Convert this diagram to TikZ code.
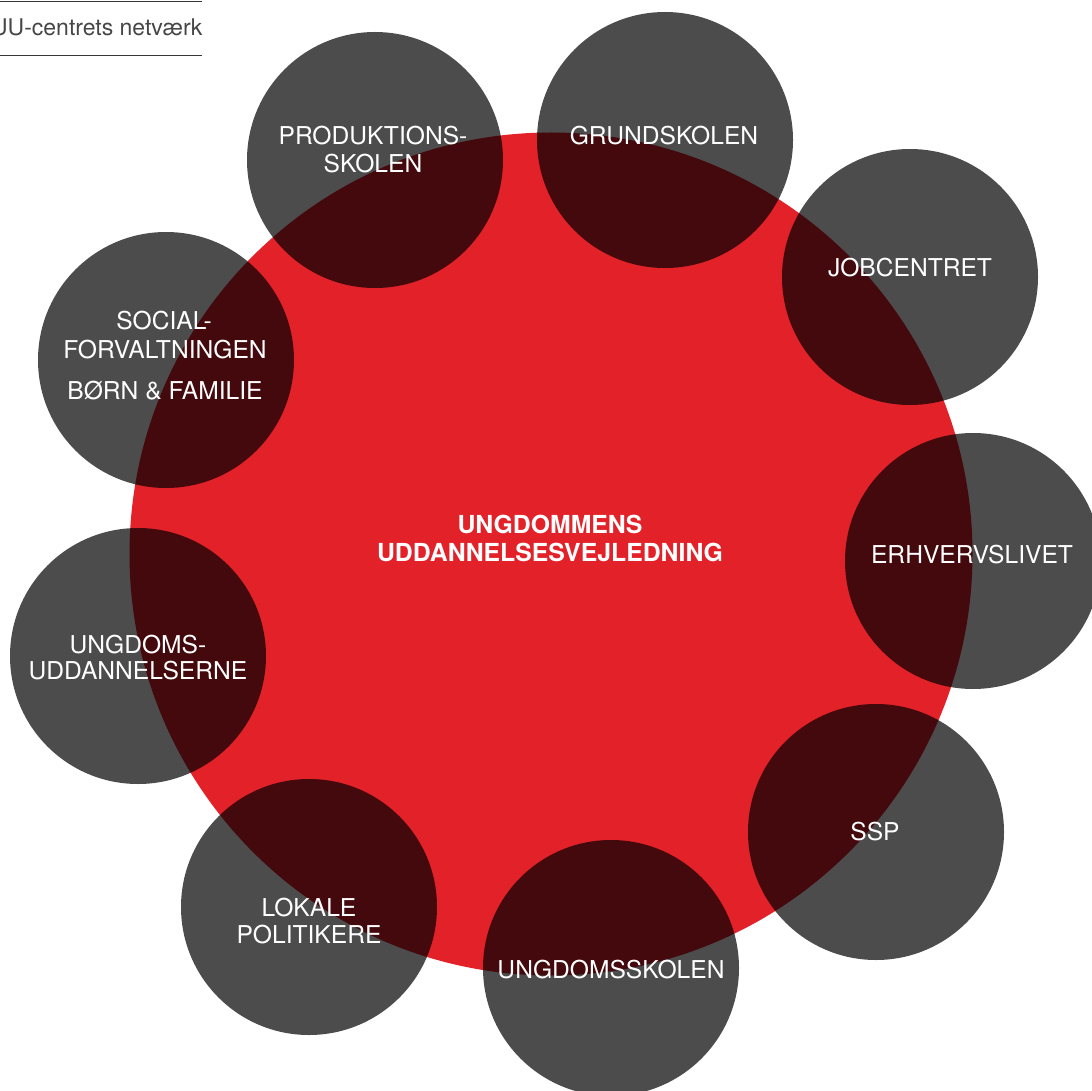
\documentclass[tikz,border=0pt]{standalone}
\usepackage{fontspec}
\setmainfont{TeX Gyre Heros}
\definecolor{uured}{RGB}{227,33,41}
\definecolor{hdrgray}{RGB}{55,55,55}
\definecolor{hdrtext}{RGB}{70,70,70}
\begin{document}
\begin{tikzpicture}[x=1pt,y=-1pt,
  hub/.style={circle, fill=uured, draw=none, minimum size=843pt, inner sep=0pt},
  partner/.style={circle, fill=black, fill opacity=0.7, draw=none, minimum size=256pt, inner sep=0pt},
  lbl/.style={text=white, inner sep=0pt, anchor=base, font=\fontsize{24.6}{28}\selectfont},
  hublbl/.style={lbl, font=\fontsize{24.8}{28}\selectfont\bfseries},
  hdrline/.style={draw=hdrgray, line width=1pt},
  hdrlbl/.style={text=hdrtext, inner sep=0pt, anchor=base east, font=\fontsize{23}{28}\selectfont}
]
\useasboundingbox (0,0) rectangle (1092,1091);

% header
\coordinate (h1a) at (0,2);   \coordinate (h1b) at (202,2);
\coordinate (h2a) at (0,56);  \coordinate (h2b) at (202,56);
\draw[hdrline] (h1a) -- (h1b);
\draw[hdrline] (h2a) -- (h2b);
\node[hdrlbl] (hdr) at (202.5,36) {UU-centrets netværk};

% central circle
\node[hub] (hub) at (551,554) {};

% partner circles
\node[partner] (prod)   at (375,160) {};
\node[partner] (grund)  at (665,140) {};
\node[partner] (job)    at (910,277) {};
\node[partner] (erhv)   at (973,561) {};
\node[partner] (ssp)    at (876,832) {};
\node[partner] (ungsk)  at (611,968) {};
\node[partner] (lokale) at (309,907) {};
\node[partner] (ungudd) at (138,656) {};
\node[partner] (social) at (166,360) {};

% central label
\node[hublbl] (hubt1) at (550,533) {UNGDOMMENS};
\node[hublbl] (hubt2) at (550,561) {UDDANNELSESVEJLEDNING};

% partner labels
\node[lbl] (prodt1)   at (373,145) {PRODUKTIONS-};
\node[lbl] (prodt2)   at (373,173) {SKOLEN};
\node[lbl] (grundt)   at (664,145) {GRUNDSKOLEN};
\node[lbl] (jobt)     at (910,277) {JOBCENTRET};
\node[lbl] (erhvt)    at (972,563) {ERHVERVSLIVET};
\node[lbl] (sspt)     at (875,840) {SSP};
\node[lbl] (ungskt)   at (611,978) {UNGDOMSSKOLEN};
\node[lbl] (lokalet1) at (309,916) {LOKALE};
\node[lbl] (lokalet2) at (309,943) {POLITIKERE};
\node[lbl] (unguddt1) at (138,653) {UNGDOMS-};
\node[lbl] (unguddt2) at (138,679) {UDDANNELSERNE};
\node[lbl] (socialt1) at (164,329) {SOCIAL-};
\node[lbl] (socialt2) at (165,358) {FORVALTNINGEN};
\node[lbl] (socialt3) at (165,399) {BØRN \& FAMILIE};
\end{tikzpicture}
\end{document}
